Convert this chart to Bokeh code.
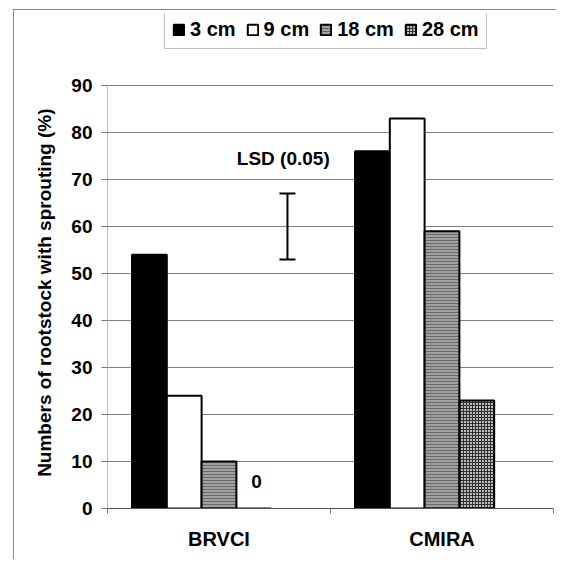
from bokeh.plotting import figure
from bokeh.models import (Range1d, FixedTicker, Legend, LegendItem, ColumnDataSource,
                          Whisker, TeeHead)
from bokeh.embed import file_html
from bokeh.resources import INLINE
from bokeh.core.properties import value

# ---- data ----
categories = ["BRVCI", "CMIRA"]
series_names = ["3 cm", "9 cm", "18 cm", "28 cm"]
s3cm = [54, 76]
s9cm = [24, 83]
s18cm = [10, 59]
s28cm = [0, 23]
y_ticks = [0, 10, 20, 30, 40, 50, 60, 70, 80, 90]
lsd_low = 53
lsd_high = 67
lsd_text = "LSD (0.05)"
zero_label = "0"
y_label = "Numbers of rootstock with sprouting (%)"

FONT = "Liberation Sans"
Y_TOP = 90 * 495 / 423  # frame extends above 90 to hold the legend

p = figure(width=543, height=550, output_backend="svg", toolbar_location=None,
           x_range=Range1d(0, 2), y_range=Range1d(0, Y_TOP),
           min_border_left=93, min_border_right=4, min_border_top=3, min_border_bottom=52)
p.styles = {"border-left": "1px solid #888888", "border-top": "1px solid #888888",
            "margin-left": "13px", "margin-top": "9px"}
p.outline_line_color = None
p.background_fill_color = "white"
p.border_fill_color = "white"

bar_w = 0.156
slots = 5  # Excel-style layout with an empty fifth slot
all_series = [s3cm, s9cm, s18cm, s28cm]
styles = [
    dict(fill_color="black", line_color="black"),
    dict(fill_color="white", line_color="black"),
    dict(fill_color="#a0a0a0", line_color="black", hatch_pattern="horizontal_line",
         hatch_color="#6a6a6a", hatch_scale=3, hatch_weight=1),
    dict(fill_color="#bdbdbd", line_color="black", hatch_pattern="cross",
         hatch_color="#303030", hatch_scale=3, hatch_weight=1),
]
renderers = []
for k, (vals, st) in enumerate(zip(all_series, styles)):
    off = (k - (slots - 1) / 2) * bar_w
    xs = [i + 0.5 + off for i in range(len(categories))]
    src = ColumnDataSource(dict(x=xs, top=vals))
    r = p.vbar(x="x", top="top", width=bar_w, bottom=0, source=src, line_width=2, **st)
    renderers.append(r)

# y axis line only over the value range 0..90
p.segment(x0=[0], y0=[y_ticks[0]], x1=[0], y1=[y_ticks[-1]], line_color="#777777", line_width=1)

# zero label above the empty bar
off28 = (3 - (slots - 1) / 2) * bar_w
p.text(x=[0 + 0.5 + off28 + 0.012], y=[s28cm[0] + 5.7], text=[zero_label], text_align="center",
       text_baseline="middle", text_font=value(FONT), text_font_style="bold",
       text_font_size="19px", text_color="black")

# LSD bar
lsd_x = 0.807
wsrc = ColumnDataSource(dict(x=[lsd_x], lower=[lsd_low], upper=[lsd_high]))
wh = Whisker(base="x", lower="lower", upper="upper", source=wsrc, line_width=2, line_color="black",
             upper_head=TeeHead(size=16, line_width=2, line_color="black"),
             lower_head=TeeHead(size=16, line_width=2, line_color="black"))
p.add_layout(wh)
p.text(x=[0.58], y=[74.4], text=[lsd_text], text_align="left", text_baseline="middle",
       text_font=value(FONT), text_font_style="bold", text_font_size="19px", text_color="black")

# axes
p.yaxis.ticker = FixedTicker(ticks=y_ticks)
p.yaxis.axis_label = y_label + "\u00a0" * 12
p.yaxis.axis_label_text_font = FONT
p.yaxis.axis_label_text_font_style = "bold"
p.yaxis.axis_label_text_font_size = "19px"
p.yaxis.axis_label_text_color = "black"
p.yaxis.axis_label_standoff = 13
p.yaxis.major_label_text_font = FONT
p.yaxis.major_label_text_font_style = "bold"
p.yaxis.major_label_text_font_size = "19px"
p.yaxis.major_label_text_color = "black"
p.yaxis.major_label_standoff = 9
p.yaxis.major_tick_out = 6
p.yaxis.major_tick_in = 0
p.yaxis.minor_tick_line_color = None
p.yaxis.axis_line_color = None
p.yaxis.major_tick_line_color = "#777777"

p.xaxis.ticker = FixedTicker(ticks=[i + 0.5 for i in range(len(categories))],
                             minor_ticks=list(range(len(categories) + 1)))
p.xaxis.major_label_overrides = {i + 0.5: c for i, c in enumerate(categories)}
p.xaxis.major_tick_line_color = None
p.xaxis.minor_tick_out = 5
p.xaxis.minor_tick_in = 0
p.xaxis.minor_tick_line_color = "#777777"
p.xaxis.axis_line_color = "#555555"
p.xaxis.major_label_text_font = FONT
p.xaxis.major_label_text_font_style = "bold"
p.xaxis.major_label_text_font_size = "20px"
p.xaxis.major_label_text_color = "black"
p.xaxis.major_label_standoff = 13

p.xgrid.visible = False
p.ygrid.grid_line_color = "#808080"
p.ygrid.grid_line_width = 1

legend = Legend(items=[LegendItem(label=n, renderers=[r]) for n, r in zip(series_names, renderers)],
                orientation="horizontal", location=(57, 459),
                label_text_font=FONT, label_text_font_style="bold", label_text_font_size="20px",
                label_text_color="black",
                glyph_width=13, glyph_height=13, spacing=10, padding=7, margin=0,
                label_standoff=5, border_line_color="#888888", border_line_width=1,
                background_fill_alpha=1)
p.add_layout(legend, "center")

open("out.html", "w").write(file_html(p, INLINE))
